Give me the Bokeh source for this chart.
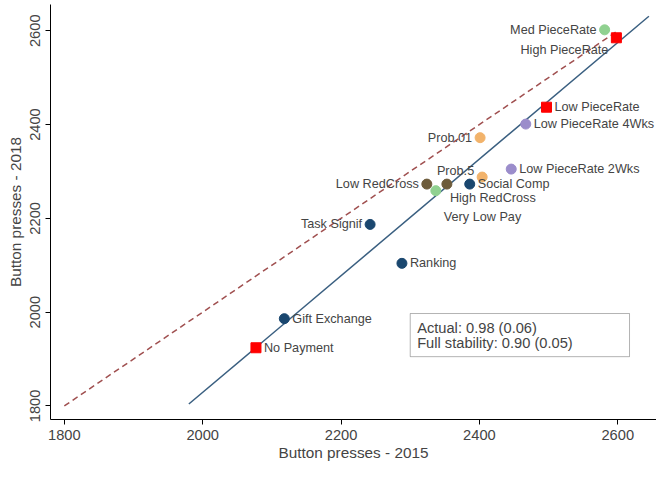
from bokeh.plotting import figure
from bokeh.models import ColumnDataSource, FixedTicker, BoxAnnotation, Label
from bokeh.embed import file_html
from bokeh.resources import INLINE
from bokeh.core.properties import value

names = ["Med PieceRate","High PieceRate","Low PieceRate","Low PieceRate 4Wks","Prob.01",
         "Low PieceRate 2Wks","Prob.5","Social Comp","Low RedCross","High RedCross","Very Low Pay",
         "Task Signif","Ranking","Gift Exchange","No Payment"]
x2015 = [2581,2598,2497,2467,2401,2446,2404,2386,2324,2353,2337,2242,2288,2118,2077]
y2018 = [2602,2585,2437,2401,2372,2305,2288,2273,2273,2273,2259,2187,2104,1986,1924]
groups = ["green","red","red","purple","orange","purple","orange","navy","brown","brown","green",
          "navy","navy","navy","red"]
lab_side = ["right","right","left","left","right","left","right","left","right","left","left",
            "right","left","left","left"]
lab_dx = [-8,-8,8,8,-8,8,-8,8,-8,3,8,-8,8,8,8]
lab_dy = [0,-12,0,0,0,0,6,0,0,-14,-26,0,0,0,0]

fit_x = [1980, 2645]
fit_y = [1804, 2631]
diag = [1800, 2600]

palette = {"navy":"#1a476f","red":"#ff0000","green":"#90d190","orange":"#f2b36b",
           "purple":"#9b8dcb","brown":"#6e5c3b"}

p = figure(width=656, height=463, output_backend="svg", toolbar_location=None,
           x_range=(1780, 2656), y_range=(1771, 2656),
           min_border_left=50, min_border_right=0, min_border_top=4, min_border_bottom=31)
p.grid.visible = False
p.outline_line_color = None
p.background_fill_color = "white"

p.line(diag, diag, line_color="#a05050", line_dash="6 4", line_width=1.5)
p.line(fit_x, fit_y, line_color="#3a5f80", line_width=1.5)

box = BoxAnnotation(left=2300, right=2617, bottom=1905, top=1997, fill_color="white",
                    fill_alpha=1, line_color="black", line_width=1)
p.add_layout(box)
p.add_layout(Label(x=2310, y=1966, text="Actual: 0.98 (0.06)", text_font_size="11pt",
                   text_font="Liberation Sans", text_baseline="middle"))
p.add_layout(Label(x=2310, y=1934, text="Full stability: 0.90 (0.05)", text_font_size="11pt",
                   text_font="Liberation Sans", text_baseline="middle"))

for i in range(len(names)):
    g = groups[i]
    if g == "red":
        p.scatter([x2015[i]], [y2018[i]], marker="square", size=10, color=palette[g])
    else:
        p.scatter([x2015[i]], [y2018[i]], marker="circle", size=10, color=palette[g])
    p.add_layout(Label(x=x2015[i], y=y2018[i], text=names[i], x_offset=lab_dx[i],
                       y_offset=lab_dy[i], text_align="left" if lab_side[i]=="left" else "right",
                       text_baseline="middle", text_font_size="9.5pt", text_font="Liberation Sans"))

for ax in (p.xaxis, p.yaxis):
    ax.axis_label_text_font = "Liberation Sans"
    ax.axis_label_text_font_style = "normal"
    ax.axis_label_text_font_size = "11.5pt"
    ax.major_label_text_font = "Liberation Sans"
    ax.major_label_text_font_size = "11pt"
    ax.minor_tick_line_color = None
    ax.major_tick_out = 5
    ax.major_tick_in = 0
p.xaxis.axis_label = "Button presses - 2015"
p.yaxis.axis_label = "Button presses - 2018"
p.xaxis.ticker = FixedTicker(ticks=[1800,2000,2200,2400,2600])
p.yaxis.ticker = FixedTicker(ticks=[1800,2000,2200,2400,2600])
p.yaxis.major_label_orientation = "vertical"
p.xaxis.axis_label_standoff = 1
p.yaxis.axis_label_standoff = 4

open("out.html", "w").write(file_html(p, INLINE))
